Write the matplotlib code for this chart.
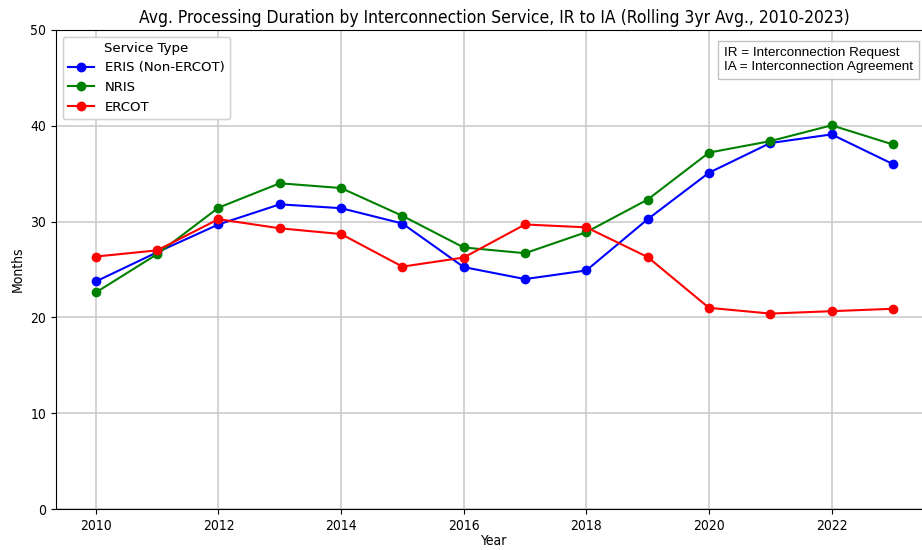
import matplotlib
matplotlib.use("Agg")
import matplotlib.pyplot as plt

# Data (rolling 3yr avg, months from IR to IA)
years = [2010, 2011, 2012, 2013, 2014, 2015, 2016, 2017, 2018, 2019, 2020, 2021, 2022, 2023]
eris = [23.75, 26.8, 29.7, 31.8, 31.4, 29.8, 25.25, 24.0, 24.9, 30.25, 35.1, 38.2, 39.1, 36.0]
nris = [22.6, 26.6, 31.45, 34.0, 33.5, 30.6, 27.3, 26.7, 28.9, 32.3, 37.2, 38.4, 40.05, 38.05]
ercot = [26.35, 27.0, 30.25, 29.3, 28.7, 25.3, 26.25, 29.7, 29.4, 26.3, 21.0, 20.4, 20.65, 20.9]

fig = plt.figure(figsize=(9.22, 5.5), dpi=100)
ax = fig.add_axes([0.0607, 0.0745, 0.951, 0.871])

ax.plot(years, eris, marker="o", color="blue", label="ERIS (Non-ERCOT)")
ax.plot(years, nris, marker="o", color="green", label="NRIS")
ax.plot(years, ercot, marker="o", color="red", label="ERCOT")

ax.set_ylim(0, 50)
ax.set_title("Avg. Processing Duration by Interconnection Service, IR to IA (Rolling 3yr Avg., 2010-2023)",
             fontsize=12.5, fontstretch="condensed", pad=5)
ax.set_xlabel("Year", fontsize=10, fontstretch="condensed", labelpad=1)
ax.set_ylabel("Months", fontsize=10, fontstretch="condensed")
for lbl in ax.get_xticklabels() + ax.get_yticklabels():
    lbl.set_fontstretch("condensed")
ax.grid(True, color="#c8c8c8", linewidth=1.1)

leg = ax.legend(title="Service Type", loc="upper left", fontsize=9.5, title_fontsize=9.5)
ax.add_artist(leg)

ax.text(0.977, 0.965, "IR = Interconnection Request\nIA = Interconnection Agreement",
        transform=ax.transAxes, ha="right", va="top", multialignment="left",
        fontsize=9.7, family="Liberation Sans",
        bbox=dict(boxstyle="square,pad=0.45", facecolor="white", edgecolor="#bbbbbb", alpha=0.9))

fig.savefig("out.png", dpi=100)
